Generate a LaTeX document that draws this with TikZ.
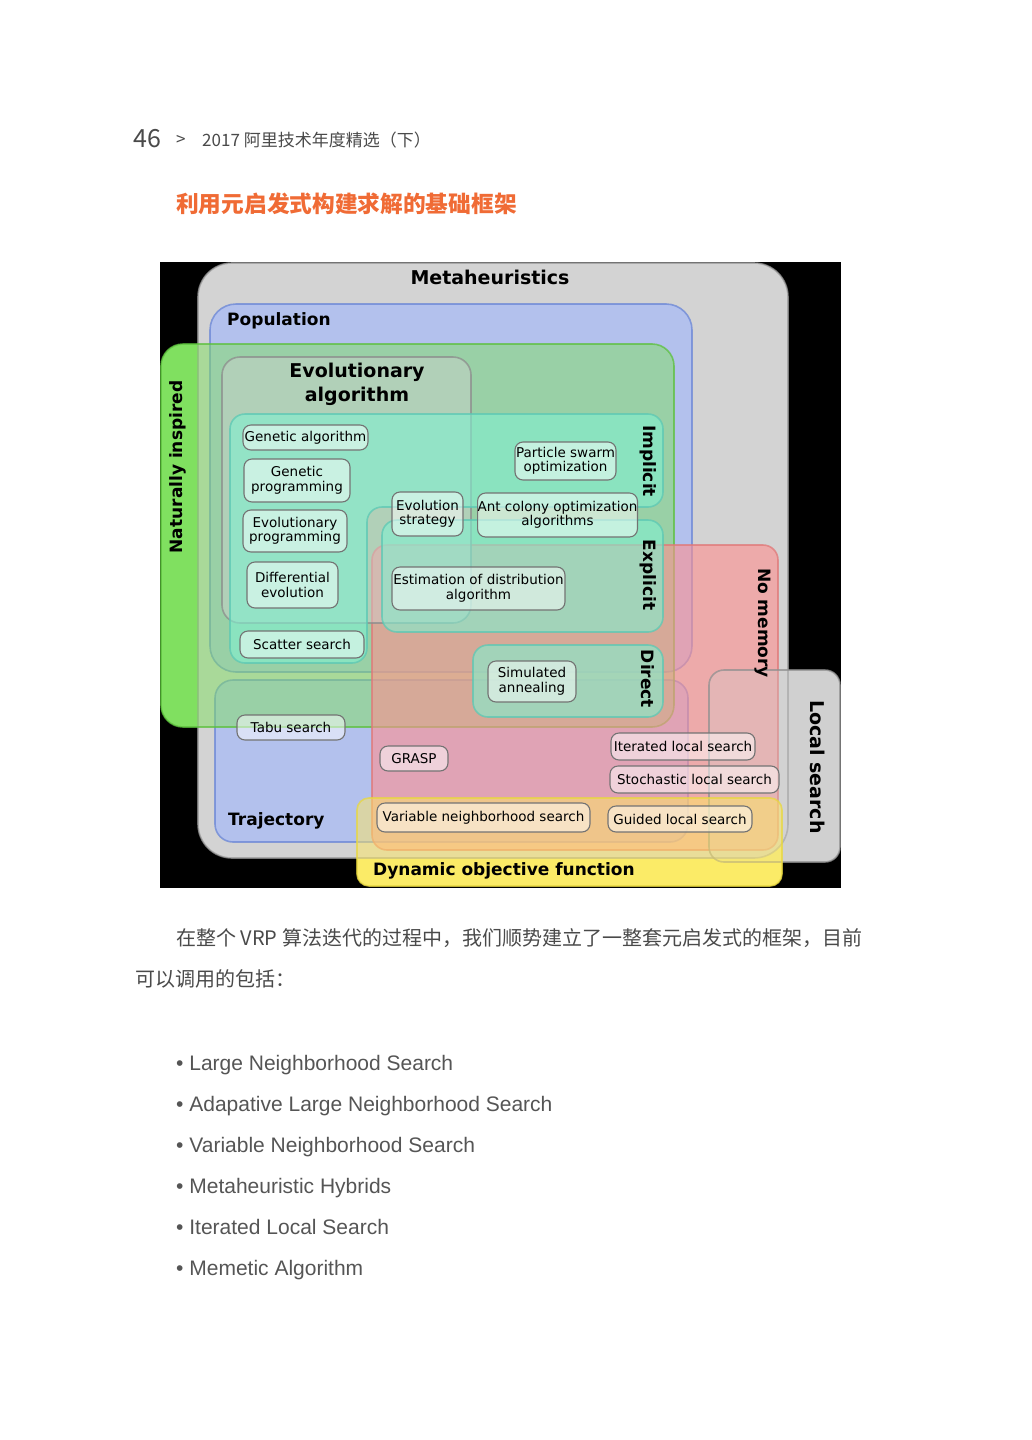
\documentclass[tikz,border=0pt]{standalone}
\usepackage{fontspec}
\setmainfont{DejaVu Sans}
\newfontfamily\cjk{Noto Sans CJK SC}
\newfontfamily\listfont{Liberation Sans}
\usetikzlibrary{positioning}

\definecolor{metagray}{HTML}{D3D3D3}
\definecolor{metaline}{HTML}{9A9A9A}
\definecolor{popblue}{HTML}{9FB6FF}
\definecolor{popline}{HTML}{6A86D6}
\definecolor{natgreen}{HTML}{80E060}
\definecolor{natline}{HTML}{5CC03C}
\definecolor{evogray}{HTML}{D0D0D0}
\definecolor{evoline}{HTML}{8C8C8C}
\definecolor{tealfill}{HTML}{80F0D0}
\definecolor{tealline}{HTML}{5CC8B4}
\definecolor{mempink}{HTML}{FF9090}
\definecolor{memline}{HTML}{E07878}
\definecolor{lsgray}{HTML}{D0D0D0}
\definecolor{lsline}{HTML}{909090}
\definecolor{dynyellow}{HTML}{F8F070}
\definecolor{dynglaze}{HTML}{FFE860}
\definecolor{dynline}{HTML}{E8D840}
\definecolor{titleorange}{HTML}{F06B35}
\definecolor{pagegray}{HTML}{4A4A4A}
\definecolor{listgray}{HTML}{555555}

\begin{document}
\begin{tikzpicture}[
    x=1pt, y=-1pt,
    zone/.style={line width=1.6pt, draw opacity=0.75, rounded corners=#1},
    zone/.default=15pt,
    algo/.style={draw=black!55, line width=1.1pt, fill=white, fill opacity=0.5, text opacity=1,
        rounded corners=8pt, inner sep=0pt, align=center, font=\fontsize{13.5}{14.5}\selectfont},
    heading/.style={inner sep=0pt, font=\fontsize{17}{20}\selectfont\bfseries},
    bigheading/.style={inner sep=0pt, align=center, font=\fontsize{19}{24}\selectfont\bfseries},
    pagetext/.style={inner sep=0pt, anchor=base west, text=pagegray, font=\cjk\fontsize{20}{24}\selectfont},
    listitem/.style={inner sep=0pt, anchor=base west, text=listgray, font=\listfont\fontsize{21}{25}\selectfont}
]

% Page
\fill[white] (0,0) rectangle (1031,1440);
\useasboundingbox (0,0) rectangle (1031,1440);

% Running head and section title
\node[inner sep=0pt, anchor=base west, text=pagegray, font=\cjk\fontsize{25}{30}\selectfont] (pagenum) at (133,147) {46};
\node[inner sep=0pt, anchor=base west, text=pagegray, font=\cjk\fontsize{17}{20}\selectfont] (headsep) at (176,145) {>};
\node[inner sep=0pt, anchor=base west, text=pagegray, font=\cjk\fontsize{17}{20}\selectfont] (headtext) at (202,146) {2017 阿里技术年度精选（下）};
\node[inner sep=0pt, anchor=base west, text=titleorange, font=\cjk\fontsize{22.7}{26}\selectfont\bfseries] (title) at (176,212.5) {利用元启发式构建求解的基础框架};

% Diagram background
\fill[black] (160,262) rectangle (841,888);

% Opaque base for the parts lying on black
\fill[natgreen, rounded corners=22pt] (161,344) rectangle (674,727);
\fill[lsgray, rounded corners=15pt] (709,670) rectangle (840,862);
\fill[dynyellow, rounded corners=12pt] (357,798) rectangle (782,886);

% Metaheuristics
\draw[zone=34pt, draw=metaline, fill=metagray] (198,263) rectangle (788,858);

% Population / Trajectory
\draw[zone=26pt, draw=popline, fill=popblue, fill opacity=0.6] (210,304) rectangle (692,672);
\draw[zone=18pt, draw=popline, fill=popblue, fill opacity=0.6] (215,680) rectangle (688,842);

% Naturally inspired
\draw[zone=22pt, draw=natline, fill=natgreen, fill opacity=0.5] (161,344) rectangle (674,727);

% No memory
\draw[zone, draw=memline, fill=mempink, fill opacity=0.6] (372,545) rectangle (778,850);

% Evolutionary algorithm
\draw[zone=18pt, draw=evoline, fill=evogray, fill opacity=0.45] (222,357) rectangle (471,623);

% Implicit / Explicit / Direct
\draw[zone, draw=tealline, fill=tealfill, fill opacity=0.6]
    (230,414) -- (663,414) -- (663,507) -- (367,507) -- (367,663) -- (230,663) -- cycle;
\draw[zone, draw=tealline, fill=tealfill, fill opacity=0.6] (382,520) rectangle (663,632);
\draw[zone, draw=tealline, fill=tealfill, fill opacity=0.6] (473,645) rectangle (663,717);

% Local search
\draw[zone, draw=lsline, fill=lsgray, fill opacity=0.3] (709,670) rectangle (840,862);

% Dynamic objective function
\draw[zone=12pt, draw=dynline, fill=dynglaze, fill opacity=0.5] (357,798) rectangle (782,886);

% Region labels
\node[bigheading] (meta) at (490,277) {Metaheuristics};
\node[heading, anchor=west] (pop) at (227,321) {Population};
\node[heading, rotate=90] (nat) at (178,467) {Naturally inspired};
\node[bigheading] (evo) at (357,384) {Evolutionary\\algorithm};
\node[heading, rotate=-90] (impl) at (648,461) {Implicit};
\node[heading, rotate=-90] (expl) at (648,575) {Explicit};
\node[heading, rotate=-90] (direct) at (648,679) {Direct};
\node[heading, rotate=-90] (nomem) at (763,623) {No memory};
\node[bigheading, rotate=-90] (local) at (818,767) {Local search};
\node[heading, anchor=west] (traj) at (228,821) {Trajectory};
\node[heading, anchor=west] (dyn) at (373,871) {Dynamic objective function};

% Algorithms
\node[algo, minimum width=125pt, minimum height=25pt] (ga) at (305.5,437.5) {Genetic algorithm};
\node[algo, minimum width=106pt, minimum height=43pt] (gp) at (297,480.5) {Genetic\\programming};
\node[algo, minimum width=104pt, minimum height=42pt] (ep) at (295,531) {Evolutionary\\programming};
\node[algo, minimum width=91pt, minimum height=46pt] (de) at (292.5,585) {Differential\\evolution};
\node[algo, minimum width=124pt, minimum height=27pt] (ss) at (302,644.5) {Scatter search};
\node[algo, minimum width=71pt, minimum height=44pt] (es) at (427.5,514) {Evolution\\strategy};
\node[algo, minimum width=101pt, minimum height=38pt] (pso) at (565.5,461) {Particle swarm\\optimization};
\node[algo, minimum width=159pt, minimum height=44pt] (aco) at (557.5,515) {Ant colony optimization\\algorithms};
\node[algo, minimum width=173pt, minimum height=43pt] (eda) at (478.5,588.5) {Estimation of distribution\\algorithm};
\node[algo, minimum width=88pt, minimum height=41pt] (sa) at (532,681.5) {Simulated\\annealing};
\node[algo, minimum width=108pt, minimum height=25pt] (tabu) at (291,727.5) {Tabu search};
\node[algo, minimum width=68pt, minimum height=25pt] (grasp) at (414,758.5) {GRASP};
\node[algo, minimum width=144pt, minimum height=27pt] (ils) at (683,746.5) {Iterated local search};
\node[algo, minimum width=169pt, minimum height=27pt] (sls) at (694.5,779.5) {Stochastic local search};
\node[algo, minimum width=213pt, minimum height=29pt] (vns) at (483.5,817.5) {Variable neighborhood search};
\node[algo, minimum width=144pt, minimum height=26pt] (gls) at (680,819) {Guided local search};

% Body text
\node[pagetext] (para1) at (176,945) {在整个 VRP 算法迭代的过程中，我们顺势建立了一整套元启发式的框架，目前};
\node[pagetext] (para2) at (135,986) {可以调用的包括：};

% Method list
\node[listitem] (lns) at (176,1070) {• Large Neighborhood Search};
\node[listitem, below=41pt of lns.base west, anchor=base west] (alns) {• Adapative Large Neighborhood Search};
\node[listitem, below=41pt of alns.base west, anchor=base west] (vnsitem) {• Variable Neighborhood Search};
\node[listitem, below=41pt of vnsitem.base west, anchor=base west] (hybrid) {• Metaheuristic Hybrids};
\node[listitem, below=41pt of hybrid.base west, anchor=base west] (ilsitem) {• Iterated Local Search};
\node[listitem, below=41pt of ilsitem.base west, anchor=base west] (memetic) {• Memetic Algorithm};

\end{tikzpicture}
\end{document}
